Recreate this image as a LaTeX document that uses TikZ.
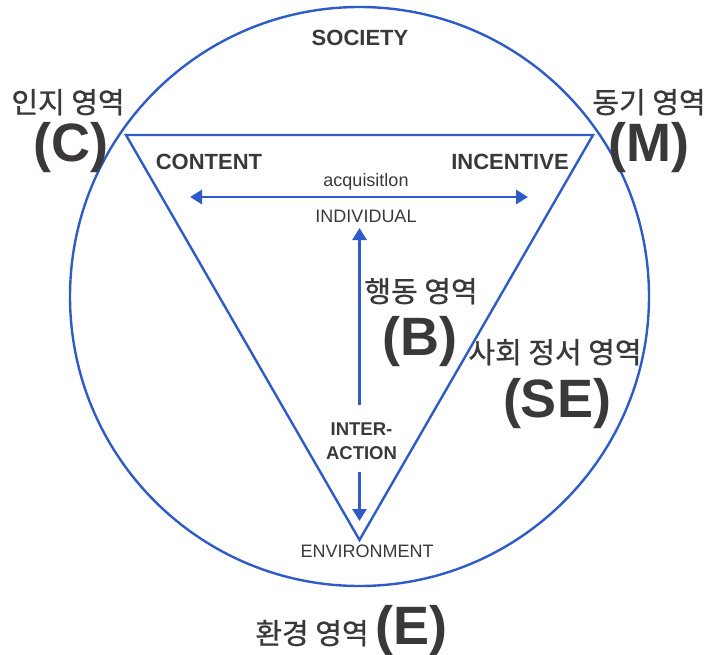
\documentclass[tikz,border=0pt]{standalone}
\usepackage{fontspec}
\setmainfont{Liberation Sans}
\newfontfamily\kofont[FakeBold=0.8]{Noto Sans CJK KR}
\usetikzlibrary{arrows.meta}
\definecolor{lineblue}{HTML}{2F5BC9}
\definecolor{ink}{HTML}{3B3838}

\begin{document}
\begin{tikzpicture}[x=1pt,y=-1pt,every node/.style={text=ink,inner sep=0pt,anchor=base},
  arealbl/.style={font=\kofont\fontsize{29}{32}\selectfont},
  areakey/.style={font=\bfseries\fontsize{54}{60}\selectfont},
  term/.style={font=\bfseries\fontsize{22}{26}\selectfont},
  lbl/.style={font=\fontsize{18}{22}\selectfont},
  outline/.style={draw=lineblue,line width=2.4pt},
  link/.style={draw=lineblue,line width=2.8pt,-{Triangle[length=12pt,width=14pt]}}]
\useasboundingbox (0,0) rectangle (706,655);
% society circle and triangle
\coordinate (hub) at (359.5,296.5);
\draw[outline] (hub) circle[radius=289.5];
\coordinate (cntV) at (126,135);
\coordinate (incV) at (593,135);
\coordinate (envV) at (359.5,540);
\draw[outline,line join=miter] (cntV) -- (incV) -- (envV) -- cycle;
% labels
\node (society) [term] at (360,46) {SOCIETY};
\node (cogn) [arealbl] at (68,113) {인지 영역};
\node (cognKey) [areakey] at (71,161.5) {(C)};
\node (moti) [arealbl] at (649,113) {동기 영역};
\node (motiKey) [areakey] at (649,161.5) {(M)};
\node (content) [term] at (209,170) {CONTENT};
\node (incentive) [term] at (510,170) {INCENTIVE};
\node (acq) [lbl] at (366,186) {acquisitlon};
\node (individual) [lbl] at (366,222) {INDIVIDUAL};
\node (behav) [arealbl] at (421,302) {행동 영역};
\node (behavKey) [areakey] at (420,355) {(B)};
\node (social) [arealbl] at (555,363) {사회 정서 영역};
\node (socialKey) [areakey] at (557,417) {(SE)};
\node (interaction) [anchor=center,align=center,font=\bfseries\fontsize{18.5}{24}\selectfont] at (361.5,441.4) {INTER-\\ACTION};
\node (environment) [lbl] at (367,557.5) {ENVIRONMENT};
\node (env) [arealbl] at (312,644) {환경 영역};
\node (envKey) [areakey] at (411.5,644) {(E)};
% arrows
\coordinate (acqW) at (190,197);
\coordinate (acqE) at (528,197);
\draw[link,{Triangle[length=12pt,width=14pt]}-{Triangle[length=12pt,width=14pt]}] (acqW) -- (acqE);
\coordinate (upTip) at (359.5,228);
\coordinate (downTip) at (359.5,521);
\draw[link,shorten <=17.5pt] (interaction.north -| upTip) -- (upTip);
\draw[link,shorten <=12pt] (interaction.south -| downTip) -- (downTip);
\end{tikzpicture}
\end{document}
